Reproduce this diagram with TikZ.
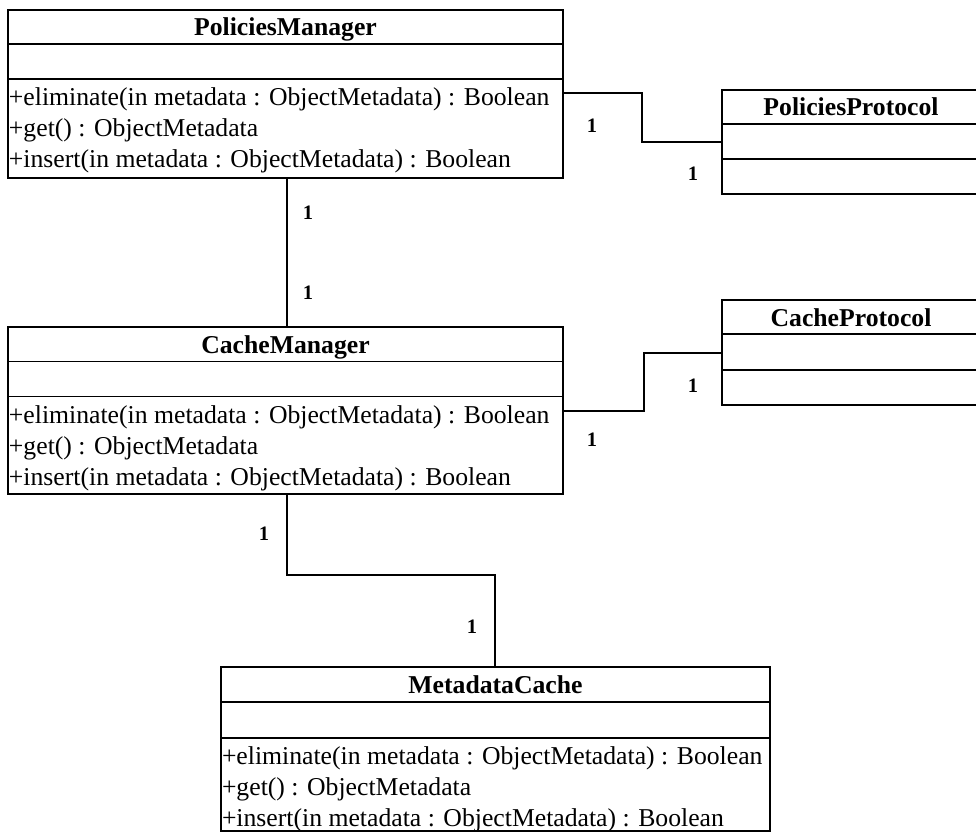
\documentclass[tikz,border=0pt]{standalone}
\usepackage{fontspec}
\setmainfont{Liberation Serif}
\begin{document}
\begin{tikzpicture}[x=1pt,y=-1pt,
  every node/.style={inner sep=0pt, outer sep=0pt},
  classbox/.style={draw, line width=1.7pt, rectangle, anchor=north west},
  sep/.style={line width=1.7pt},
  classname/.style={font=\fontsize{25.7}{31}\bfseries\selectfont, anchor=base},
  ops/.style={font=\fontsize{25.7}{31}\selectfont, align=left, anchor=north west},
  mult/.style={font=\fontsize{20.5}{24}\bfseries\selectfont},
  link/.style={line width=1.7pt}]
\useasboundingbox (0,0) rectangle (976,832);
\fill[white] (0,0) rectangle (976,832);

% PoliciesManager
\node[classbox, minimum width=555pt, minimum height=168pt] (pm) at (8,10) {};
\draw[sep] (pm.west |- 0,44) -- (pm.east |- 0,44);
\draw[sep] (pm.west |- 0,79) -- (pm.east |- 0,79);
\node[classname] (pm-name) at (285.5,36) {PoliciesManager};
\node[ops] (pm-ops) at (9,88) {+eliminate(in metadata : ObjectMetadata) : Boolean\\+get() : ObjectMetadata\\+insert(in metadata : ObjectMetadata) : Boolean};

% PoliciesProtocol
\node[classbox, minimum width=258pt, minimum height=104pt] (pp) at (722,90) {};
\draw[sep] (pp.west |- 0,124) -- (pp.east |- 0,124);
\draw[sep] (pp.west |- 0,159) -- (pp.east |- 0,159);
\node[classname] (pp-name) at (851,116) {PoliciesProtocol};

% CacheManager
\node[classbox, minimum width=555pt, minimum height=167pt] (cm) at (8,327) {};
\draw[sep] (cm.west |- 0,361.5) -- (cm.east |- 0,361.5);
\draw[sep] (cm.west |- 0,396.5) -- (cm.east |- 0,396.5);
\node[classname] (cm-name) at (285.5,353) {CacheManager};
\node[ops] (cm-ops) at (9,405.5) {+eliminate(in metadata : ObjectMetadata) : Boolean\\+get() : ObjectMetadata\\+insert(in metadata : ObjectMetadata) : Boolean};

% CacheProtocol
\node[classbox, minimum width=258pt, minimum height=105pt] (cp) at (722,300) {};
\draw[sep] (cp.west |- 0,334) -- (cp.east |- 0,334);
\draw[sep] (cp.west |- 0,370) -- (cp.east |- 0,370);
\node[classname] (cp-name) at (851,326) {CacheProtocol};

% MetadataCache
\node[classbox, minimum width=549pt, minimum height=164pt] (mc) at (221,667) {};
\draw[sep] (mc.west |- 0,702) -- (mc.east |- 0,702);
\draw[sep] (mc.west |- 0,738) -- (mc.east |- 0,738);
\node[classname] (mc-name) at (495.5,693) {MetadataCache};
\node[ops] (mc-ops) at (222,747) {+eliminate(in metadata : ObjectMetadata) : Boolean\\+get() : ObjectMetadata\\+insert(in metadata : ObjectMetadata) : Boolean};

% associations
\draw[link] (287,0 |- pm.south) -- (287,0 |- cm.north);
\draw[link] (pm.east |- 0,93) -| (642,142) -- (pp.west |- 0,142);
\draw[link] (cm.east |- 0,411) -| (644,353) -- (cp.west |- 0,353);
\draw[link] (287,0 |- cm.south) |- (495,575) -- (495,0 |- mc.north);

% multiplicities
\node[mult] (m1) at (592,126) {1};
\node[mult] (m2) at (693,174) {1};
\node[mult] (m3) at (308,213) {1};
\node[mult] (m4) at (308,293) {1};
\node[mult] (m5) at (693,386) {1};
\node[mult] (m6) at (592,440) {1};
\node[mult] (m7) at (264,534) {1};
\node[mult] (m8) at (472,627) {1};
\end{tikzpicture}
\end{document}
